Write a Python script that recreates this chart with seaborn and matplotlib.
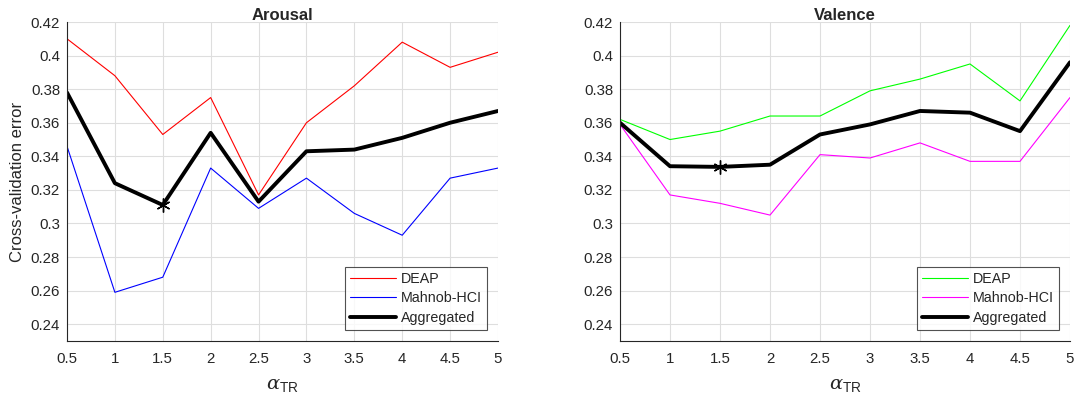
import numpy as np
import pandas as pd
import matplotlib
matplotlib.use("Agg")
import matplotlib.pyplot as plt
from matplotlib.lines import Line2D
import seaborn as sns

alpha_tr = [0.5, 1, 1.5, 2, 2.5, 3, 3.5, 4, 4.5, 5]

arousal_deap = [0.410, 0.388, 0.353, 0.375, 0.317, 0.360, 0.382, 0.408, 0.393, 0.402]
arousal_mahnob = [0.346, 0.259, 0.268, 0.333, 0.309, 0.327, 0.306, 0.293, 0.327, 0.333]
arousal_agg = [0.378, 0.324, 0.311, 0.354, 0.313, 0.343, 0.344, 0.351, 0.360, 0.367]

valence_deap = [0.362, 0.350, 0.355, 0.364, 0.364, 0.379, 0.386, 0.395, 0.373, 0.418]
valence_mahnob = [0.359, 0.317, 0.312, 0.305, 0.341, 0.339, 0.348, 0.337, 0.337, 0.375]
valence_agg = [0.360, 0.3341, 0.3337, 0.335, 0.353, 0.359, 0.367, 0.366, 0.355, 0.396]

series_names = ["DEAP", "Mahnob-HCI", "Aggregated"]
y_ticks = [0.24, 0.26, 0.28, 0.30, 0.32, 0.34, 0.36, 0.38, 0.40, 0.42]
y_ticklabels = ["0.24", "0.26", "0.28", "0.3", "0.32", "0.34", "0.36", "0.38", "0.4", "0.42"]
x_ticklabels = ["0.5", "1", "1.5", "2", "2.5", "3", "3.5", "4", "4.5", "5"]

sns.set_style("white")
plt.rcParams["font.family"] = ["Liberation Sans", "DejaVu Sans"]
plt.rcParams["mathtext.fontset"] = "custom"
plt.rcParams["mathtext.rm"] = "Liberation Sans"
plt.rcParams["mathtext.it"] = "DejaVu Serif:italic"

fig = plt.figure(figsize=(10.82, 4.03), dpi=100)
ax1 = fig.add_axes([67 / 1082, 1 - 341 / 403, 431 / 1082, 319 / 403])
ax2 = fig.add_axes([620 / 1082, 1 - 341 / 403, 450 / 1082, 319 / 403])

panels = [
    (ax1, "Arousal", arousal_deap, arousal_mahnob, arousal_agg, "#ff0000", "#0000ff"),
    (ax2, "Valence", valence_deap, valence_mahnob, valence_agg, "#00ff00", "#ff00ff"),
]

axis_col = "#262626"
for ax, title, d, m, a, c1, c2 in panels:
    df = pd.DataFrame({
        "alpha": alpha_tr * 3,
        "err": d + m + a,
        "src": [series_names[0]] * 10 + [series_names[1]] * 10 + [series_names[2]] * 10,
    })
    sns.lineplot(data=df, x="alpha", y="err", hue="src",
                 palette={series_names[0]: c1, series_names[1]: c2, series_names[2]: "black"},
                 size="src", sizes={series_names[0]: 0.8, series_names[1]: 0.8, series_names[2]: 2.8},
                 ax=ax, legend=False)
    imin = int(np.argmin(a))
    ax.plot(alpha_tr[imin], a[imin], marker=(6, 2, 0), color="black", markersize=10,
            markeredgewidth=1.0, linestyle="none")
    ax.set_xlim(0.5, 5)
    ax.set_ylim(0.23, 0.42)
    ax.set_xticks(alpha_tr)
    ax.set_xticklabels(x_ticklabels)
    ax.set_yticks(y_ticks)
    ax.set_yticklabels(y_ticklabels)
    ax.grid(True, color="#dedede", linewidth=0.8)
    ax.set_axisbelow(True)
    for s in ["top", "right"]:
        ax.spines[s].set_visible(False)
    for s in ["left", "bottom"]:
        ax.spines[s].set_color(axis_col)
        ax.spines[s].set_linewidth(0.8)
    ax.tick_params(direction="in", length=4, width=0.8, colors=axis_col,
                   labelsize=10.8, labelcolor=axis_col)
    ax.tick_params(axis="x", pad=8)
    ax.tick_params(axis="y", pad=5)
    ax.set_title(title, fontsize=12, fontweight="bold", pad=1.5)
    ax.set_xlabel(r"$\alpha_{\mathrm{TR}}$", fontsize=14, color=axis_col, labelpad=8)
    ax.set_ylabel("")
    handles = [Line2D([], [], color=c1, lw=0.8), Line2D([], [], color=c2, lw=0.8),
               Line2D([], [], color="black", lw=2.8)]
    leg = ax.legend(handles, series_names, loc="lower right", fontsize=10.3,
                    frameon=True, fancybox=False, handlelength=3.2, borderaxespad=0.8,
                    labelspacing=0.37, handletextpad=0.3, borderpad=0.35)
    leg.get_frame().set_edgecolor(axis_col)
    leg.get_frame().set_linewidth(0.8)
    for t in leg.get_texts():
        t.set_color(axis_col)

ax1.set_ylabel("Cross-validation error", fontsize=12, color=axis_col, labelpad=4)

fig.savefig("out.png", dpi=100)
